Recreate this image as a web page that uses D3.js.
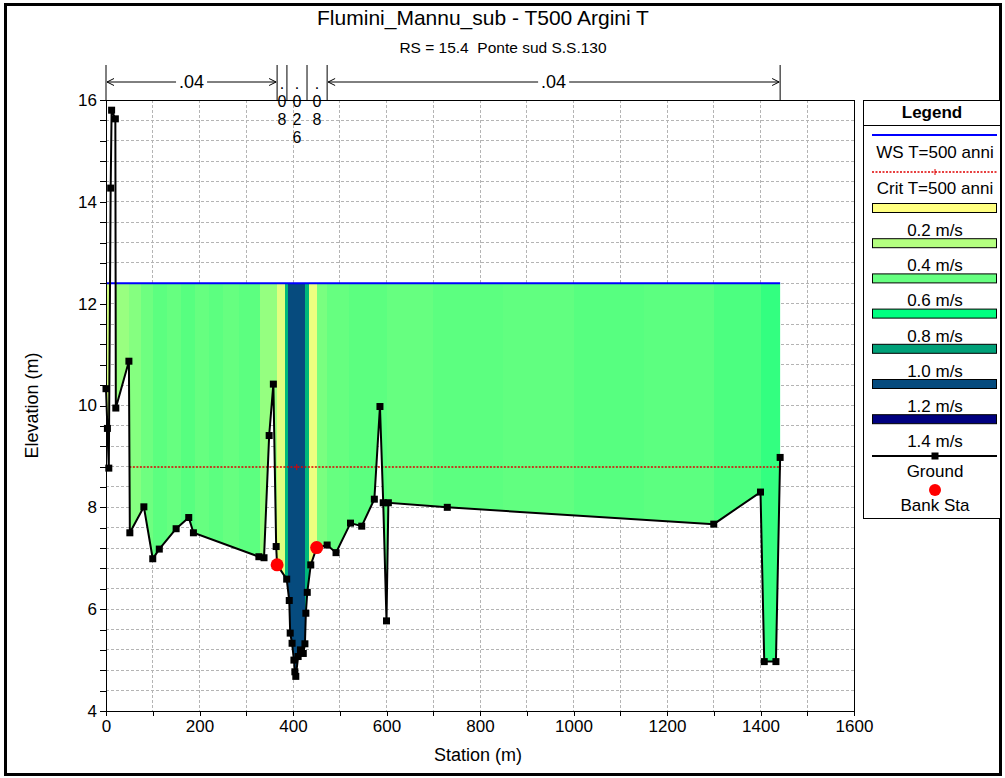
<!DOCTYPE html>
<html>
<head>
<meta charset="utf-8">
<script src="https://cdn.jsdelivr.net/npm/d3@7"></script>
<style>
  body { margin: 0; background: #fff; }
  svg { display: block; font-family: 'Liberation Sans', Arial, sans-serif; }
  .grid line { stroke: #b4b4b4; stroke-dasharray: 3,2; shape-rendering: crispEdges; }
  .axis path { display: none; }
  .axis line { stroke: #000; shape-rendering: crispEdges; }
  .axis text { font-size: 17px; fill: #000; font-family: 'Liberation Sans', Arial, sans-serif; }
</style>
</head>
<body>
<div class="chart-container"></div>
<script>
// ground profile (station m, elevation m)
var stations = [0, 3, 6, 10, 12, 20, 21, 49, 51, 81, 100, 114, 150, 177, 187, 327, 338, 349, 358, 364, 366,
  386.5, 392, 394, 398, 402, 404, 406, 411, 416, 422, 425.5, 427.5, 430.5, 438, 450.6, 473, 492, 523, 547,
  574, 586, 593, 600, 604, 730, 1300, 1400, 1408, 1433, 1442];
var elevations = [10.33, 9.55, 8.77, 14.27, 15.8, 15.63, 9.95, 10.87, 7.5, 8.01, 6.99, 7.18, 7.58, 7.8, 7.5, 7.03, 7.01, 9.41, 10.42, 7.23, 6.87,
  6.59, 6.17, 5.53, 5.33, 5.0, 4.77, 4.68, 5.07, 5.2, 5.13, 5.32, 5.92, 6.33, 6.87, 7.21, 7.26, 7.11, 7.69, 7.63,
  8.16, 9.98, 8.09, 5.77, 8.09, 8.0, 7.67, 8.3, 4.97, 4.97, 8.98];

var bankStations = [366, 450.6];
var bankElevations = [6.87, 7.21];

var wsElevation = 12.4;
var wsFrom = 0;
var wsTo = 1442;

var critElevation = 8.79;
var critFrom = [0, 50];
var critTo = [6, 1442];
var critMarks = [6, 408, 1442];

// velocity distribution strips (start station, velocity m/s); last strip ends at wsTo
var stripStart = [0, 6, 21, 50, 75, 100, 130, 160, 190, 220, 250, 285, 329, 366, 383, 390, 425, 434, 451, 473,
  520, 600, 700, 850, 1000, 1150, 1300, 1400];
var stripVelocity = [0.32, 0.38, 0.47, 0.52, 0.58, 0.62, 0.6, 0.63, 0.6, 0.62, 0.6, 0.62, 0.48, 0.28, 0.95, 1.2, 0.95, 0.25, 0.55, 0.6,
  0.62, 0.6, 0.62, 0.61, 0.63, 0.62, 0.65, 0.7];

var legendVelocities = [0.2, 0.4, 0.6, 0.8, 1.0, 1.2, 1.4];
var legendColors = ['#ffff80', '#b4ff80', '#66ff80', '#00ff80', '#00a078', '#064b7e', '#000080'];

// manning's n
var nBreaks = [0, 366, 387, 430, 473, 1442];
var nValues = ['.04', '.08', '.026', '.08', '.04'];

var xTickLabels = [0, 200, 400, 600, 800, 1000, 1200, 1400, 1600];
var yTickLabels = [4, 6, 8, 10, 12, 14, 16];

var margin = {top: 100, right: 151, bottom: 67, left: 106};
var width = 1005 - margin.left - margin.right;
var height = 778 - margin.top - margin.bottom;

var x = d3.scaleLinear()
  .domain([0, 1600])
  .range([margin.left, margin.left + width]);

var y = d3.scaleLinear()
  .domain([4, 16])
  .range([margin.top + height, margin.top]);

var color = d3.scaleLinear()
  .domain(legendVelocities)
  .range(legendColors)
  .clamp(true);

var ground = stations.map((s, i) => [s, elevations[i]]);

var line = d3.line()
  .x(d => x(d[0]))
  .y(d => y(d[1]));

var svg = d3.select('.chart-container').append('svg')
  .attr('width', 1005)
  .attr('height', 778);

svg.append('rect')
  .attr('x', 5.5).attr('y', 4.5)
  .attr('width', 995).attr('height', 770)
  .attr('fill', 'none')
  .attr('stroke', '#000')
  .attr('stroke-width', 3);

// titles
svg.append('text')
  .attr('x', 483).attr('y', 25)
  .attr('text-anchor', 'middle')
  .style('font-size', '21px')
  .text('Flumini_Mannu_sub - T500 Argini T');

svg.append('text')
  .attr('x', 503).attr('y', 53)
  .attr('text-anchor', 'middle')
  .style('font-size', '15.5px')
  .style('white-space', 'pre')
  .text('RS = 15.4  Ponte sud S.S.130');

// grid
var grid = svg.append('g').attr('class', 'grid');
grid.selectAll('.vg')
  .data(d3.range(100, 1600, 100))
  .enter().append('line')
    .attr('class', 'vg')
    .attr('x1', d => x(d)).attr('x2', d => x(d))
    .attr('y1', margin.top).attr('y2', margin.top + height);
grid.selectAll('.hg')
  .data(d3.range(1, 30).map(i => 4 + i * 0.4))
  .enter().append('line')
    .attr('class', 'hg')
    .attr('x1', margin.left).attr('x2', margin.left + width)
    .attr('y1', d => y(d)).attr('y2', d => y(d));

// water area coloured by velocity
svg.append('defs').append('clipPath')
    .attr('id', 'water')
  .append('path')
    .attr('d', line(ground.concat([[wsTo, 17], [wsFrom, 17]])) + 'Z');

svg.append('g')
    .attr('clip-path', 'url(#water)')
  .selectAll('rect')
  .data(stripStart)
  .enter().append('rect')
    .attr('x', d => x(d))
    .attr('width', (d, i) => x(i + 1 < stripStart.length ? stripStart[i + 1] : wsTo) - x(d) + 0.5)
    .attr('y', y(wsElevation))
    .attr('height', y(4) - y(wsElevation))
    .attr('fill', (d, i) => color(stripVelocity[i]))
    .attr('shape-rendering', 'crispEdges');

// water surface
svg.append('line')
  .attr('x1', x(wsFrom)).attr('x2', x(wsTo))
  .attr('y1', y(wsElevation)).attr('y2', y(wsElevation))
  .attr('stroke', '#0000ff')
  .attr('stroke-width', 2);

// critical
var crit = svg.append('g').attr('class', 'crit');
crit.selectAll('line.seg')
  .data(critFrom)
  .enter().append('line')
    .attr('class', 'seg')
    .attr('x1', d => x(d))
    .attr('x2', (d, i) => x(critTo[i]))
    .attr('y1', y(critElevation)).attr('y2', y(critElevation))
    .attr('stroke', '#e00000')
    .attr('stroke-width', 1.5)
    .attr('stroke-dasharray', '2,1.5');
crit.selectAll('line.mark')
  .data(critMarks)
  .enter().append('line')
    .attr('class', 'mark')
    .attr('x1', d => x(d)).attr('x2', d => x(d))
    .attr('y1', y(critElevation) - 3).attr('y2', y(critElevation) + 3)
    .attr('stroke', '#e00000');

// ground
svg.append('path')
  .datum(ground)
  .attr('d', line)
  .attr('fill', 'none')
  .attr('stroke', '#000')
  .attr('stroke-width', 2);

svg.append('g').selectAll('rect')
  .data(ground)
  .enter().append('rect')
    .attr('x', d => x(d[0]) - 3.5)
    .attr('y', d => y(d[1]) - 3.5)
    .attr('width', 7).attr('height', 7)
    .attr('fill', '#000');

svg.append('g').selectAll('circle')
  .data(bankStations)
  .enter().append('circle')
    .attr('cx', d => x(d))
    .attr('cy', (d, i) => y(bankElevations[i]))
    .attr('r', 6.5)
    .attr('fill', '#ff0000');

// plot frame
svg.append('rect')
  .attr('x', margin.left).attr('y', margin.top)
  .attr('width', width).attr('height', height)
  .attr('fill', 'none')
  .attr('stroke', '#000')
  .attr('shape-rendering', 'crispEdges');

// axes
var xAxis = d3.axisBottom(x)
  .tickValues(d3.range(0, 1601, 100))
  .tickSize(5)
  .tickPadding(4)
  .tickFormat(d => xTickLabels.includes(d) ? d : '');

var yAxis = d3.axisLeft(y)
  .tickValues(d3.range(0, 31).map(i => 4 + i * 0.4))
  .tickSize(6)
  .tickPadding(3)
  .tickFormat(d => yTickLabels.includes(Math.round(d * 10) / 10) ? Math.round(d) : '');

svg.append('g')
  .attr('class', 'axis')
  .attr('transform', `translate(0, ${margin.top + height})`)
  .call(xAxis);

svg.append('g')
  .attr('class', 'axis')
  .attr('transform', `translate(${margin.left},0)`)
  .call(yAxis);

svg.append('text')
  .attr('x', x(800) - 2).attr('y', 761)
  .attr('text-anchor', 'middle')
  .style('font-size', '18px')
  .text('Station (m)');

svg.append('text')
  .attr('transform', `translate(38, ${y(10)}) rotate(-90)`)
  .attr('text-anchor', 'middle')
  .style('font-size', '18px')
  .text('Elevation (m)');

/*
 * Manning's n bar above the plot
 */
var nBar = svg.append('g').attr('class', 'manning');
var arrowY = 82;
nBar.selectAll('line.brk')
  .data(nBreaks)
  .enter().append('line')
    .attr('class', 'brk')
    .attr('x1', d => x(d)).attr('x2', d => x(d))
    .attr('y1', 65).attr('y2', margin.top)
    .attr('stroke', '#000');

nValues.forEach((v, i) => {
  var x0 = x(nBreaks[i]);
  var x1 = x(nBreaks[i + 1]);
  var mid = (x0 + x1) / 2;
  if (x1 - x0 > 60) {
    var t = nBar.append('text')
      .attr('x', mid).attr('y', arrowY + 6)
      .attr('text-anchor', 'middle')
      .style('font-size', '18px')
      .text(v);
    var w = t.node().getComputedTextLength();
    nBar.append('path')
      .attr('d', `M${x0 + 1},${arrowY}H${mid - w / 2 - 3}M${mid + w / 2 + 3},${arrowY}H${x1 - 1}` +
        `M${x0 + 8},${arrowY - 3.5}L${x0 + 1},${arrowY}L${x0 + 8},${arrowY + 3.5}` +
        `M${x1 - 8},${arrowY - 3.5}L${x1 - 1},${arrowY}L${x1 - 8},${arrowY + 3.5}`)
      .attr('fill', 'none')
      .attr('stroke', '#000');
  } else {
    v.split('').forEach((c, j) => {
      nBar.append('text')
        .attr('x', mid).attr('y', 89 + j * 18)
        .attr('text-anchor', 'middle')
        .style('font-size', '16px')
        .text(c);
    });
  }
});

/*
 * Legend
 */
var lg = svg.append('g').attr('class', 'legend');
var lgLeft = 863, lgRight = 1000, lgMid = 935;
lg.append('rect')
  .attr('x', lgLeft).attr('y', margin.top)
  .attr('width', lgRight - lgLeft).attr('height', 418)
  .attr('fill', '#fff')
  .attr('stroke', '#000')
  .attr('shape-rendering', 'crispEdges');
lg.append('line')
  .attr('x1', lgLeft).attr('x2', lgRight)
  .attr('y1', 125).attr('y2', 125)
  .attr('stroke', '#000')
  .attr('shape-rendering', 'crispEdges');
lg.append('text')
  .attr('x', 932).attr('y', 118)
  .attr('text-anchor', 'middle')
  .style('font-size', '17px')
  .style('font-weight', 'bold')
  .text('Legend');

lg.append('line')
  .attr('x1', 872).attr('x2', 997)
  .attr('y1', 135).attr('y2', 135)
  .attr('stroke', '#0000ff').attr('stroke-width', 2);
lg.append('text')
  .attr('x', lgMid).attr('y', 158)
  .attr('text-anchor', 'middle')
  .style('font-size', '17px')
  .text('WS T=500 anni');

lg.append('line')
  .attr('x1', 872).attr('x2', 997)
  .attr('y1', 172).attr('y2', 172)
  .attr('stroke', '#e00000').attr('stroke-width', 1.5)
  .attr('stroke-dasharray', '2,1.5');
lg.append('line')
  .attr('x1', lgMid).attr('x2', lgMid)
  .attr('y1', 169).attr('y2', 175)
  .attr('stroke', '#e00000');
lg.append('text')
  .attr('x', lgMid).attr('y', 194)
  .attr('text-anchor', 'middle')
  .style('font-size', '17px')
  .text('Crit T=500 anni');

var items = lg.selectAll('g.vel')
  .data(legendVelocities)
  .enter().append('g')
    .attr('class', 'vel')
    .attr('transform', (d, i) => `translate(0, ${203 + i * 35.2})`);
items.append('rect')
  .attr('x', 872.5).attr('y', 0.5)
  .attr('width', 124).attr('height', 9)
  .attr('fill', (d, i) => legendColors[i])
  .attr('stroke', '#000');
items.append('text')
  .attr('x', lgMid).attr('y', 33)
  .attr('text-anchor', 'middle')
  .style('font-size', '17px')
  .text(d => d.toFixed(1) + ' m/s');

lg.append('line')
  .attr('x1', 872).attr('x2', 997)
  .attr('y1', 456).attr('y2', 456)
  .attr('stroke', '#000').attr('stroke-width', 2);
lg.append('rect')
  .attr('x', lgMid - 3.5).attr('y', 452.5)
  .attr('width', 7).attr('height', 7)
  .attr('fill', '#000');
lg.append('text')
  .attr('x', lgMid).attr('y', 477)
  .attr('text-anchor', 'middle')
  .style('font-size', '17px')
  .text('Ground');

lg.append('circle')
  .attr('cx', lgMid).attr('cy', 490)
  .attr('r', 6)
  .attr('fill', '#ff0000');
lg.append('text')
  .attr('x', lgMid).attr('y', 511)
  .attr('text-anchor', 'middle')
  .style('font-size', '17px')
  .text('Bank Sta');
</script>
</body>
</html>
